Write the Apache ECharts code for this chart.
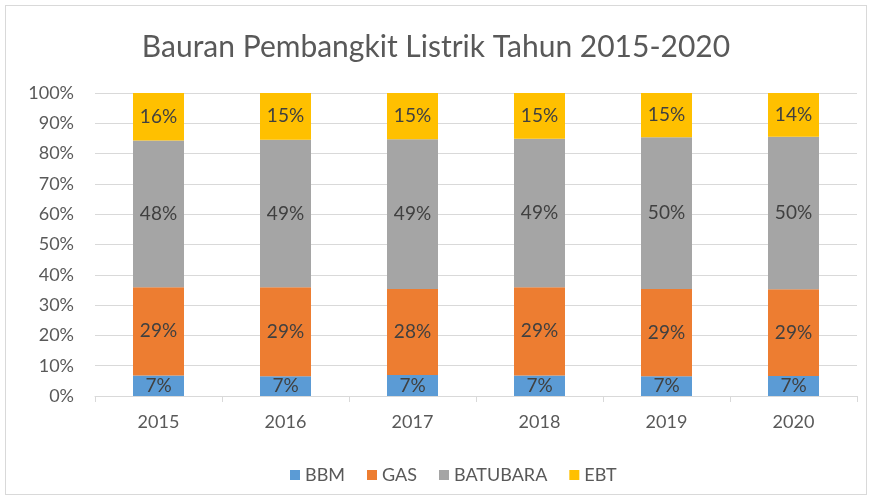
<!DOCTYPE html>
<html><head><meta charset="utf-8">
<script src="https://cdn.jsdelivr.net/npm/echarts@6/dist/echarts.min.js"></script>
<style>
html,body{margin:0;padding:0;background:#fff;}
#frame{position:absolute;left:5px;top:5px;width:862px;height:490px;border:1px solid #d9d9d9;box-sizing:border-box;}
#c{position:absolute;left:0;top:0;width:872px;height:498px;}
</style></head>
<body><div id="frame"></div><div id="c"></div>
<script>
const categories = ['2015','2016','2017','2018','2019','2020'];
const bbm      = [6.8, 6.5, 6.9, 6.8, 6.5, 6.6];
const gas      = [29.1, 29.4, 28.4, 29.1, 28.8, 28.6];
const batubara = [48.4, 48.7, 49.4, 49.0, 50.1, 50.4];
const ebt      = [15.7, 15.4, 15.3, 15.1, 14.6, 14.4];
const yTicks = [0,10,20,30,40,50,60,70,80,90,100];

const font = 'Lato, sans-serif';
const chart = echarts.init(document.getElementById('c'));
function s(name, data, color){
  return {name, type:'bar', stack:'t', data, barWidth:51,
    itemStyle:{color},
    label:{show:true, position:'inside', color:'#404040', fontSize:19, fontFamily:font,
      formatter:p=>Math.round(p.value)+'%'}};
}
chart.setOption({
  animation:false,
  title:{text:'Bauran Pembangkit Listrik Tahun 2015-2020', left:'center', top:27,
    textStyle:{color:'#595959', fontSize:30, fontWeight:'normal', fontFamily:font}},
  legend:{top:461, left:285, itemWidth:10, itemHeight:10, itemGap:22, icon:'rect',
    textStyle:{color:'#595959', fontSize:18, fontFamily:font}},
  grid:{left:95, right:15, top:93, bottom:102},
  xAxis:{type:'category', data:categories,
    axisLine:{lineStyle:{color:'#d9d9d9'}},
    axisTick:{show:true, length:6, lineStyle:{color:'#d9d9d9'}},
    axisLabel:{color:'#595959', fontSize:18, fontFamily:font, margin:17}},
  yAxis:{type:'value', min:0, max:100, interval:10,
    axisLine:{show:false}, axisTick:{show:false},
    splitLine:{lineStyle:{color:'#d9d9d9', width:1}},
    axisLabel:{color:'#595959', fontSize:18, fontFamily:font, margin:21,
      formatter:v=>yTicks.includes(v)?v+'%':''}},
  series:[s('BBM',bbm,'#5B9BD5'), s('GAS',gas,'#ED7D31'), s('BATUBARA',batubara,'#A5A5A5'), s('EBT',ebt,'#FFC000')]
});
</script></body></html>
